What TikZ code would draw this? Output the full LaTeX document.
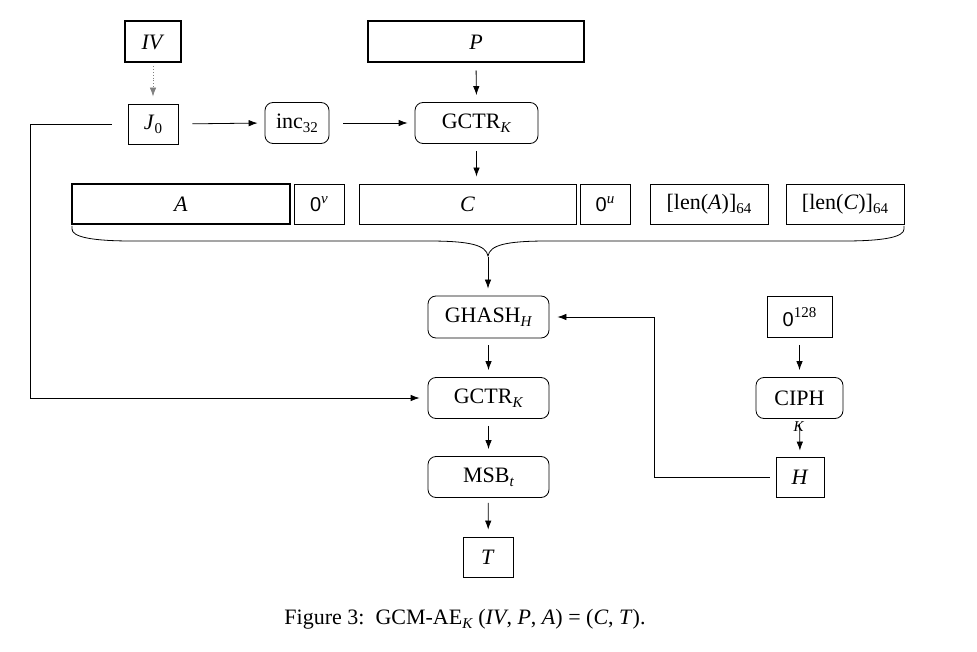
\documentclass[tikz,border=0pt]{standalone}
\usepackage{fontspec}
\setmainfont{Liberation Serif}
\newfontfamily\zerofont{Liberation Sans}
\usetikzlibrary{arrows.meta}
\newcommand\lowsub[1]{\raisebox{-0.4ex}{\fontsize{15}{15}\selectfont #1}}
\newcommand\highsup[1]{\raisebox{0.85ex}{\fontsize{15}{15}\selectfont #1}}
\begin{document}
\begin{tikzpicture}[x=1pt,y=-1pt,
  font=\fontsize{22}{26}\selectfont,
  sq/.style={draw, line width=0.8pt, inner sep=0pt},
  rnd/.style={sq, rounded corners=8pt},
  thickbox/.style={draw, line width=2pt, inner sep=0pt},
  conn/.style={line width=0.8pt, -{Latex[length=9pt,width=6.5pt]}},
  plain/.style={line width=0.8pt}]
\useasboundingbox (0,0) rectangle (977,652);
% top
\node[thickbox, minimum width=56pt, minimum height=41pt] (iv) at (153,42) {\textit{IV}};
\node[thickbox, minimum width=216pt, minimum height=41pt] (p) at (476,42) {\textit{P}};
\node[sq, minimum width=50pt, minimum height=40pt] (j0) at (153,124) {\textit{J}\lowsub{0}};
\node[rnd, minimum width=64pt, minimum height=41pt] (inc) at (297,123) {inc\lowsub{32}};
\node[rnd, minimum width=123pt, minimum height=41pt] (gctra) at (476.5,123) {GCTR\lowsub{\textit{K}}};
% row
\node[thickbox, minimum width=218pt, minimum height=40pt] (a) at (181,204) {\textit{A}};
\node[sq, minimum width=50pt, minimum height=40pt] (zv) at (319,204) {{\zerofont\fontsize{20}{24}\selectfont 0}\highsup{\textit{v}}};
\node[sq, minimum width=217pt, minimum height=40pt] (c) at (467.5,204) {\textit{C}};
\node[sq, minimum width=50pt, minimum height=40pt] (zu) at (605,204) {{\zerofont\fontsize{20}{24}\selectfont 0}\highsup{\textit{u}}};
\node[sq, minimum width=118pt, minimum height=40pt] (lena) at (709,204) {[len(\textit{A})]\lowsub{64}};
\node[sq, minimum width=118pt, minimum height=40pt] (lenc) at (845,204) {[len(\textit{C})]\lowsub{64}};
% brace
\draw[plain] (72,226) -- (72,229) .. controls (72,237) and (92,241) .. (132,241) -- (428,241)
  .. controls (470,241) and (486,245) .. (488,256)
  .. controls (490,245) and (506,241) .. (548,241) -- (844,241)
  .. controls (884,241) and (904,237) .. (904,229) -- (904,226);
\coordinate (tip) at (488,256);
% lower
\node[rnd, minimum width=121pt, minimum height=42pt] (ghash) at (488.5,317) {GHASH\lowsub{\textit{H}}};
\node[rnd, minimum width=121pt, minimum height=41pt] (gctrb) at (488.5,398) {GCTR\lowsub{\textit{K}}};
\node[rnd, minimum width=121pt, minimum height=41pt] (msb) at (488.5,477) {MSB\lowsub{\textit{t}}};
\node[sq, minimum width=50pt, minimum height=40pt] (t) at (488,557) {\textit{T}};
\node[sq, minimum width=65pt, minimum height=41pt] (z128) at (799.5,317) {{\zerofont\fontsize{20}{24}\selectfont 0}\highsup{128}};
\node[rnd, minimum width=87pt, minimum height=41pt] (ciph) at (799.5,398) {CIPH};
\node[sq, minimum width=48pt, minimum height=40pt] (h) at (800,477) {\textit{H}};
\node[inner sep=0pt, font=\fontsize{15}{15}\selectfont] (klab) at (799,427) {\textit{K}};
% connectors
\draw[conn, dotted, gray, shorten <=3pt, shorten >=7pt] (iv) -- (j0);
\draw[conn, shorten <=14pt, shorten >=7pt] (j0.east) -- (inc.west);
\draw[conn, shorten <=14pt, shorten >=7pt] (inc.east) -- (gctra.west);
\draw[conn, shorten <=7pt, shorten >=7pt] (p.south) -- (gctra.north);
\draw[conn, shorten <=7pt, shorten >=7pt] (gctra.south) -- (gctra.south |- c.north);
\draw[conn, shorten <=1pt, shorten >=7pt] (tip) -- (tip |- ghash.north);
\draw[conn, shorten <=7pt, shorten >=7pt] (ghash) -- (gctrb);
\draw[conn, shorten <=7pt, shorten >=7pt] (gctrb) -- (msb);
\draw[conn, shorten <=5pt, shorten >=7pt] (msb) -- (t);
\draw[conn, shorten <=7pt, shorten >=7pt] (z128) -- (ciph);
\draw[conn, shorten <=5pt, shorten >=6pt] (ciph.south) -- (h.north);
\coordinate (hbend) at (654,317);
\draw[conn, shorten <=6pt, shorten >=8pt] (h.west) -| (hbend) -- (ghash.east);
\coordinate (jbend) at (30,398);
\draw[conn, shorten <=16pt, shorten >=8pt] (j0.west) -| (jbend) -- (gctrb.west);
% caption
\node[anchor=base] (cap) at (465,624) {Figure 3:\ \ GCM-AE\lowsub{\textit{K}} (\textit{IV}, \textit{P}, \textit{A}) = (\textit{C}, \textit{T}).};
\end{tikzpicture}
\end{document}
